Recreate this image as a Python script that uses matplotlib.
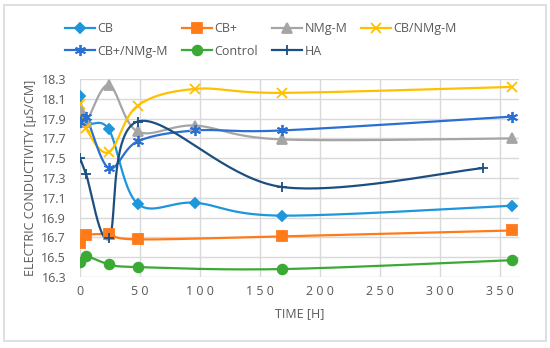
import matplotlib.pyplot as plt
import numpy as np
from matplotlib.patches import Rectangle

# time points [h]
t_full = [0, 5, 24, 48, 96, 168, 360]
t_short = [0, 5, 24, 48, 168, 360]
t_ha = [0, 5, 24, 48, 168, 336]

cb = [18.13, 17.86, 17.79, 17.04, 17.05, 16.92, 17.02]
cb_plus = [16.64, 16.72, 16.73, 16.68, 16.71, 16.77]
nmg = [18.01, 17.87, 18.24, 17.77, 17.83, 17.69, 17.70]
cb_nmg = [18.05, 17.80, 17.56, 18.03, 18.20, 18.16, 18.22]
cbp_nmg = [17.87, 17.92, 17.40, 17.67, 17.78, 17.78, 17.92]
control = [16.45, 16.51, 16.43, 16.40, 16.38, 16.47]
ha = [17.50, 17.34, 16.69, 17.87, 17.21, 17.40]

xticks = [0, 50, 100, 150, 200, 250, 300, 350]
yticks = [16.3, 16.5, 16.7, 16.9, 17.1, 17.3, 17.5, 17.7, 17.9, 18.1, 18.3]


def smooth(x, y, n=40):
    # spreadsheet-style smoothed line (bezier through the points)
    p = np.column_stack([x, y]).astype(float)
    pts = [p[0]] + list(p) + [p[-1]]
    out = []
    for i in range(1, len(pts) - 2):
        p0, p1, p2, p3 = pts[i - 1], pts[i], pts[i + 1], pts[i + 2]
        c1 = p1 + (p2 - p0) / 6
        c2 = p2 - (p3 - p1) / 6
        s = np.linspace(0, 1, n)[:, None]
        seg = ((1 - s) ** 3) * p1 + 3 * ((1 - s) ** 2) * s * c1 \
            + 3 * (1 - s) * s ** 2 * c2 + s ** 3 * p2
        out.append(seg)
    out = np.vstack(out)
    return out[:, 0], out[:, 1]


series = [
    ("CB", t_full, cb, "#1E96DC", "D", 5),
    ("CB+", t_short, cb_plus, "#FF7A1A", "s", 7),
    ("NMg-M", t_full, nmg, "#A5A5A5", "^", 7),
    ("CB/NMg-M", t_full, cb_nmg, "#FFC000", "x", 7),
    ("CB+/NMg-M", t_full, cbp_nmg, "#2A6FD2", (6, 2, 0), 8),
    ("Control", t_short, control, "#3BAA34", "o", 7),
    ("HA", t_ha, ha, "#1C4E80", "+", 7),
]

plt.rcParams["font.family"] = ["Open Sans", "DejaVu Sans"]

fig = plt.figure(figsize=(5.5, 3.48), dpi=100)
fig.patches.append(Rectangle((0.008, 0.02), 0.984, 0.965, transform=fig.transFigure,
                             fill=False, edgecolor="#D9D9D9", linewidth=1.2))
ax = fig.add_axes([0.1455, 0.204, 0.7982, 0.569])

handles = {}
for name, x, y, color, marker, ms in series:
    sx, sy = smooth(x, y)
    ax.plot(sx, sy, color=color, linewidth=1.6, zorder=3)
    ax.plot(x, y, linestyle="none", marker=marker, markersize=ms, color=color,
            markeredgewidth=1.3, zorder=4)
    h, = ax.plot([], [], color=color, linewidth=1.6, marker=marker,
                 markersize=ms, markeredgewidth=1.3)
    handles[name] = h

ax.set_xlim(0, 366)
ax.set_ylim(16.3, 18.3)
ax.set_xticks(xticks)
ax.set_yticks(yticks)
ax.set_xticklabels([" ".join(str(v)) for v in xticks])
ax.set_yticklabels([f"{v:.1f}" for v in yticks])
ax.grid(True, color="#D9D9D9", linewidth=1)
ax.set_axisbelow(True)
for s in ax.spines.values():
    s.set_visible(False)
ax.tick_params(axis="x", length=0, colors="#595959", labelsize=9, pad=6)
ax.tick_params(axis="y", length=0, colors="#595959", labelsize=9, pad=10)

ax.set_xlabel("TIME [H]", color="#595959", fontsize=9, labelpad=6)
ax.set_ylabel("ELECTRIC CONDUCTIVITY [μS/CM]", color="#595959", fontsize=9, labelpad=3)

order = ["CB", "CB+/NMg-M", "CB+", "Control", "NMg-M", "HA", "CB/NMg-M"]
fig.legend([handles[k] for k in order], order, ncol=4, loc="upper left",
           bbox_to_anchor=(0.098, 0.968), frameon=False, fontsize=9,
           handlelength=2.4, columnspacing=1.1, labelcolor="#595959",
           handletextpad=0.2, labelspacing=0.75)

fig.savefig("out.png", dpi=100)
